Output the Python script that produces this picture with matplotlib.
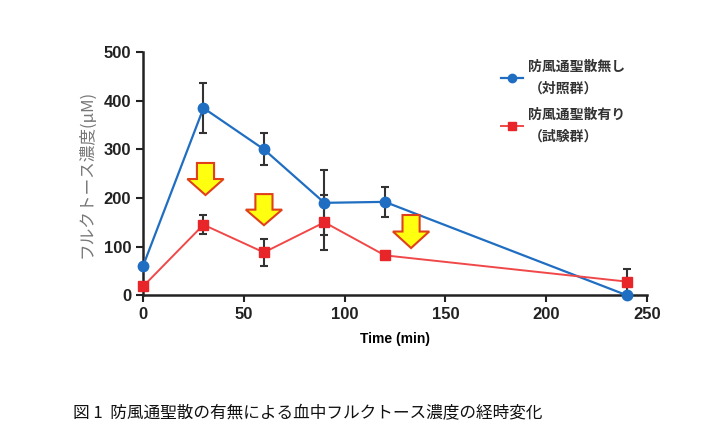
import matplotlib
matplotlib.use("Agg")
import matplotlib.pyplot as plt
from matplotlib.patches import FancyArrow
from matplotlib.lines import Line2D

plt.rcParams['font.family'] = ['Liberation Sans', 'Noto Sans CJK JP', 'DejaVu Sans']

# データ
time = [0, 30, 60, 90, 120, 240]
control = [60, 385, 300, 190, 192, 0]
control_err = [0, 52, 33, 67, 31, 0]
treated = [18, 145, 88, 150, 82, 28]
treated_err = [0, 20, 28, 57, 0, 25]

# 矢印（x, 上端, 先端）
arrow_x = [31, 60, 133]
arrow_top = [272, 208, 165]
arrow_tip = [206, 144, 97]

labels = ['防風通聖散無し\n（対照群）', '防風通聖散有り\n（試験群）']

blue = '#1f6ec2'
red = '#e8262a'
red_line = '#f04848'

fig = plt.figure(figsize=(7.26, 4.38), dpi=100)
ax = fig.add_axes([0.197, 0.326, 0.694, 0.555])

ax.errorbar(time, control, yerr=control_err, color=blue, lw=1.6, marker='o', ms=7.5,
            ecolor='#333333', elinewidth=1.5, capsize=3, capthick=1.5, clip_on=False, zorder=3)
ax.errorbar(time, treated, yerr=treated_err, color=red_line, lw=1.4, marker='s', ms=7.5,
            mfc=red, mec=red, ecolor='#333333', elinewidth=1.5, capsize=3, capthick=1.5,
            clip_on=False, zorder=3)

for x, top, tip in zip(arrow_x, arrow_top, arrow_tip):
    ax.add_patch(FancyArrow(x, top, 0, tip - top, width=8.5, head_width=18,
                            head_length=(top - tip) * 0.5, length_includes_head=True,
                            fc='#ffff10', ec='#e0401a', lw=1.5, zorder=4))

ax.set_xlim(0, 250)
ax.set_ylim(0, 500)
ax.set_xticks([0, 50, 100, 150, 200, 250])
ax.set_yticks([0, 100, 200, 300, 400, 500])
ax.spines['top'].set_visible(False)
ax.spines['right'].set_visible(False)
for s in ['left', 'bottom']:
    ax.spines[s].set_linewidth(1.8)
    ax.spines[s].set_color('#222222')
ax.tick_params(width=1.5, length=5, labelsize=12, colors='#222222')
for lab in ax.get_xticklabels() + ax.get_yticklabels():
    lab.set_fontweight('bold')

ax.set_xlabel('Time (min)', fontsize=10, fontweight='bold', labelpad=7)
ax.set_ylabel('フルクトース濃度(μM)', fontsize=12, color='#777777', labelpad=6,
              family=['Noto Sans CJK JP', 'DejaVu Sans'])

handles = [Line2D([], [], color=blue, lw=1.6, marker='o', ms=6),
           Line2D([], [], color=red_line, lw=1.4, marker='s', ms=6, mfc=red, mec=red)]
leg = ax.legend(handles, labels, loc='upper left', bbox_to_anchor=(0.685, 1.02), frameon=False,
                prop={'family': ['Noto Sans CJK JP'], 'size': 10, 'weight': 'bold'},
                handlelength=1.6, handletextpad=0.4, labelspacing=0.9, numpoints=1)
for t in leg.get_texts():
    t.set_color('#333333')
    t.set_linespacing(1.7)

fig.text(0.1, 0.045, '図 1  防風通聖散の有無による血中フルクトース濃度の経時変化',
         fontsize=12, family=['Noto Sans CJK JP', 'DejaVu Sans'], color='#111111')

fig.savefig('out.png', dpi=100, facecolor='white')
